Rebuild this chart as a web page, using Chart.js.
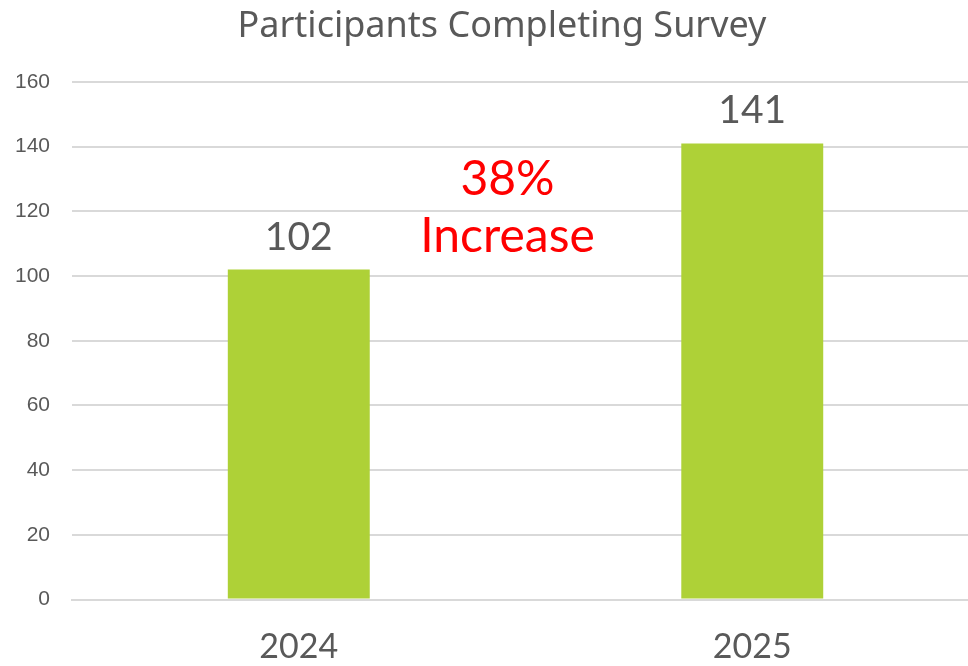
<!DOCTYPE html>
<html>
<head>
<meta charset="utf-8">
<script src="https://cdn.jsdelivr.net/npm/chart.js@4"></script>
<style>
  html, body { margin: 0; padding: 0; background: #fff; overflow: hidden; }
  #wrap { position: relative; width: 980px; height: 666px; }
</style>
</head>
<body>
<div id="wrap"><canvas id="graph"></canvas></div>
<script>
const years = ['2024', '2025'];
const participants = [102, 141];
const yTicks = [0, 20, 40, 60, 80, 100, 120, 140, 160];
const chartTitle = 'Participants Completing Survey';
const noteLines = ['38%', 'Increase'];
const noteValues = [125, 107.5];

// title, bar values and the red note are drawn here
const textPlugin = {
  id: 'textPlugin',
  afterDatasetsDraw(chart) {
    const ctx = chart.ctx;
    const x = chart.scales.x;
    const y = chart.scales.y;
    ctx.save();
    ctx.textAlign = 'center';
    ctx.textBaseline = 'alphabetic';

    ctx.fillStyle = '#595959';
    ctx.font = '36px "Noto Sans"';
    ctx.fillText(chartTitle, 502, 37);

    ctx.font = '39px Lato';
    chart.getDatasetMeta(0).data.forEach((bar, i) => {
      ctx.fillText(participants[i], bar.x, bar.y - 20);
    });

    ctx.fillStyle = '#ff0000';
    ctx.font = '48px Lato';
    const nx = x.getPixelForValue(0.5) - 18;
    noteLines.forEach((line, i) => {
      ctx.fillText(line, nx, y.getPixelForValue(noteValues[i]));
    });
    ctx.restore();
  }
};

new Chart(document.getElementById('graph').getContext('2d'), {
  type: 'bar',
  data: {
    labels: years,
    datasets: [{
      data: participants,
      backgroundColor: '#aed137',
      borderWidth: 0,
      categoryPercentage: 1,
      barPercentage: 0.313,
    }],
  },
  options: {
    responsive: true,
    maintainAspectRatio: false,
    animation: false,
    layout: { padding: { top: 82, left: -7, right: 1, bottom: -21 } },
    plugins: {
      legend: { display: false },
      title: { display: false },
      tooltip: { enabled: false },
    },
    scales: {
      x: {
        grid: { display: false },
        border: { display: true, color: '#d9d9d9', width: 2 },
        ticks: { color: '#595959', font: { family: 'Lato', size: 34, lineHeight: 0.22 }, padding: 36 },
      },
      y: {
        min: 0,
        max: 160,
        afterBuildTicks(axis) { axis.ticks = yTicks.map(v => ({ value: v })); },
        grid: { color: '#d9d9d9', lineWidth: 2, drawTicks: false },
        border: { display: false },
        ticks: { color: '#595959', font: { family: 'Liberation Sans', size: 21 }, padding: 22 },
      },
    },
  },
  plugins: [textPlugin],
});
</script>
</body>
</html>
